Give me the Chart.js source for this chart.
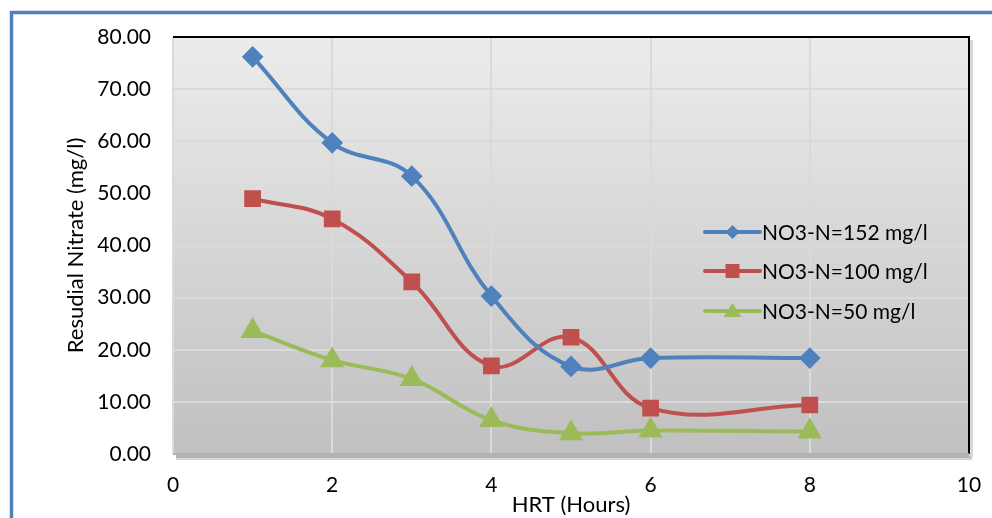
<!DOCTYPE html>
<html>
<head>
<meta charset="utf-8">
<script src="https://cdn.jsdelivr.net/npm/chart.js@4"></script>
<style>
  html, body { margin: 0; padding: 0; background: #fff; }
  #wrap { width: 992px; height: 518px; }
</style>
</head>
<body>
<div id="wrap"><canvas id="chart"></canvas></div>
<script>
// data
const hrt = [1, 2, 3, 4, 5, 6, 8]
const no3_152 = [76.2, 59.7, 53.3, 30.3, 16.8, 18.4, 18.4]
const no3_100 = [49.0, 45.1, 33.0, 16.9, 22.4, 8.8, 9.4]
const no3_50 = [23.6, 18.0, 14.4, 6.5, 4.0, 4.5, 4.3]
const seriesNames = ['NO3-N=152 mg/l', 'NO3-N=100 mg/l', 'NO3-N=50 mg/l']

const FONT = 'Lato, sans-serif'

function pts(ys){
  return hrt.map((x, i) => ({x: x, y: ys[i]}))
}

// frame + plot background
const backdrop = {
  id: 'backdrop',
  beforeDraw(chart){
    const c = chart.ctx, a = chart.chartArea
    c.save()
    // blue outer frame (left and top)
    c.strokeStyle = '#4f81bd'
    c.lineWidth = 3.5
    c.beginPath()
    c.moveTo(11.5, 518)
    c.lineTo(11.5, 12.5)
    c.lineTo(992, 12.5)
    c.stroke()
    // shadow
    c.fillStyle = '#b4b4b4'
    c.fillRect(a.left + 3, a.bottom, a.width, 4)
    c.fillStyle = '#d6d6d6'
    c.fillRect(a.left + 3, a.bottom + 4, a.width, 2)
    c.fillStyle = '#d8d8d8'
    c.fillRect(a.right, a.top + 3, 4, a.height)
    // gradient
    const g = c.createLinearGradient(0, a.top, 0, a.bottom)
    g.addColorStop(0, '#ececec')
    g.addColorStop(1, '#c0c0c0')
    c.fillStyle = g
    c.fillRect(a.left, a.top, a.width, a.height)
    c.restore()
  },
  beforeDatasetsDraw(chart){
    const c = chart.ctx, a = chart.chartArea
    c.save()
    c.strokeStyle = '#000'
    c.lineWidth = 2
    c.beginPath()
    c.moveTo(a.left, a.top)
    c.lineTo(a.right, a.top)
    c.lineTo(a.right, a.bottom)
    c.stroke()
    c.strokeStyle = '#b0b0b0'
    c.lineWidth = 2
    c.beginPath()
    c.moveTo(a.left, a.bottom)
    c.lineTo(a.right, a.bottom)
    c.stroke()
    c.restore()
  }
}

// legend inside the plot: line with marker, then label
const innerLegend = {
  id: 'innerLegend',
  afterDraw(chart){
    const c = chart.ctx
    const x0 = 705, x1 = 760
    const ys = [232, 271, 311]
    c.save()
    chart.data.datasets.forEach((ds, i) => {
      const y = ys[i]
      const mx = (x0 + x1) / 2
      c.strokeStyle = ds.borderColor
      c.lineWidth = 4
      c.lineCap = 'round'
      c.beginPath()
      c.moveTo(x0, y)
      c.lineTo(x1, y)
      c.stroke()
      c.fillStyle = ds.backgroundColor
      c.beginPath()
      if (ds.pointStyle === 'rectRot'){
        c.moveTo(mx, y - 7); c.lineTo(mx + 7, y); c.lineTo(mx, y + 7); c.lineTo(mx - 7, y)
      } else if (ds.pointStyle === 'rect'){
        c.rect(mx - 7, y - 7, 14, 14)
      } else {
        c.moveTo(mx, y - 8); c.lineTo(mx + 9, y + 6); c.lineTo(mx - 9, y + 6)
      }
      c.closePath()
      c.fill()
      c.fillStyle = '#000'
      c.font = '21px ' + FONT
      c.textBaseline = 'middle'
      c.fillText(ds.label, x1 + 2, y + 1)
    })
    c.restore()
  }
}

new Chart(document.getElementById('chart'), {
  type: 'scatter',
  data: {
    datasets: [
      {
        label: seriesNames[0],
        data: pts(no3_152),
        borderColor: '#4f81bd',
        backgroundColor: '#4f81bd',
        pointStyle: 'rectRot',
        pointRadius: 8,
        showLine: true,
        tension: 0.4,
        borderWidth: 4
      },
      {
        label: seriesNames[1],
        data: pts(no3_100),
        borderColor: '#c0504d',
        backgroundColor: '#c0504d',
        pointStyle: 'rect',
        pointRadius: 9,
        showLine: true,
        tension: 0.4,
        borderWidth: 4
      },
      {
        label: seriesNames[2],
        data: pts(no3_50),
        borderColor: '#9bbb59',
        backgroundColor: '#9bbb59',
        pointStyle: 'triangle',
        pointRadius: 10,
        showLine: true,
        tension: 0.4,
        borderWidth: 4
      }
    ]
  },
  options: {
    responsive: true,
    maintainAspectRatio: false,
    animation: false,
    layout: { padding: { left: 63, top: 37, right: 23, bottom: 0 } },
    plugins: {
      legend: { display: false },
      tooltip: { enabled: false }
    },
    scales: {
      x: {
        type: 'linear',
        min: 0, max: 10,
        ticks: { stepSize: 2, color: '#000', font: { size: 21, family: FONT }, padding: 19 },
        grid: { color: '#dadada', lineWidth: 2, drawTicks: false },
        border: { display: false },
        title: { display: true, text: 'HRT (Hours)', color: '#000', font: { size: 22, family: FONT }, padding: { top: 0, bottom: 0 } },
        afterFit(scale){
          scale.height = 64
          scale.paddingLeft = 0
          scale.paddingRight = 0
        }
      },
      y: {
        min: 0, max: 80,
        ticks: {
          stepSize: 10, color: '#000', font: { size: 21, family: FONT }, padding: 22,
          callback: v => v.toFixed(2)
        },
        grid: { color: '#dadada', lineWidth: 2, drawTicks: false },
        border: { display: false },
        title: { display: true, text: 'Resudial Nitrate (mg/l)', color: '#000', font: { size: 22, family: FONT }, padding: { top: 0, bottom: 0 } },
        afterFit(scale){
          scale.width = 110
          scale.paddingTop = 0
          scale.paddingBottom = 0
        }
      }
    }
  },
  plugins: [backdrop, innerLegend]
})
</script>
</body>
</html>
